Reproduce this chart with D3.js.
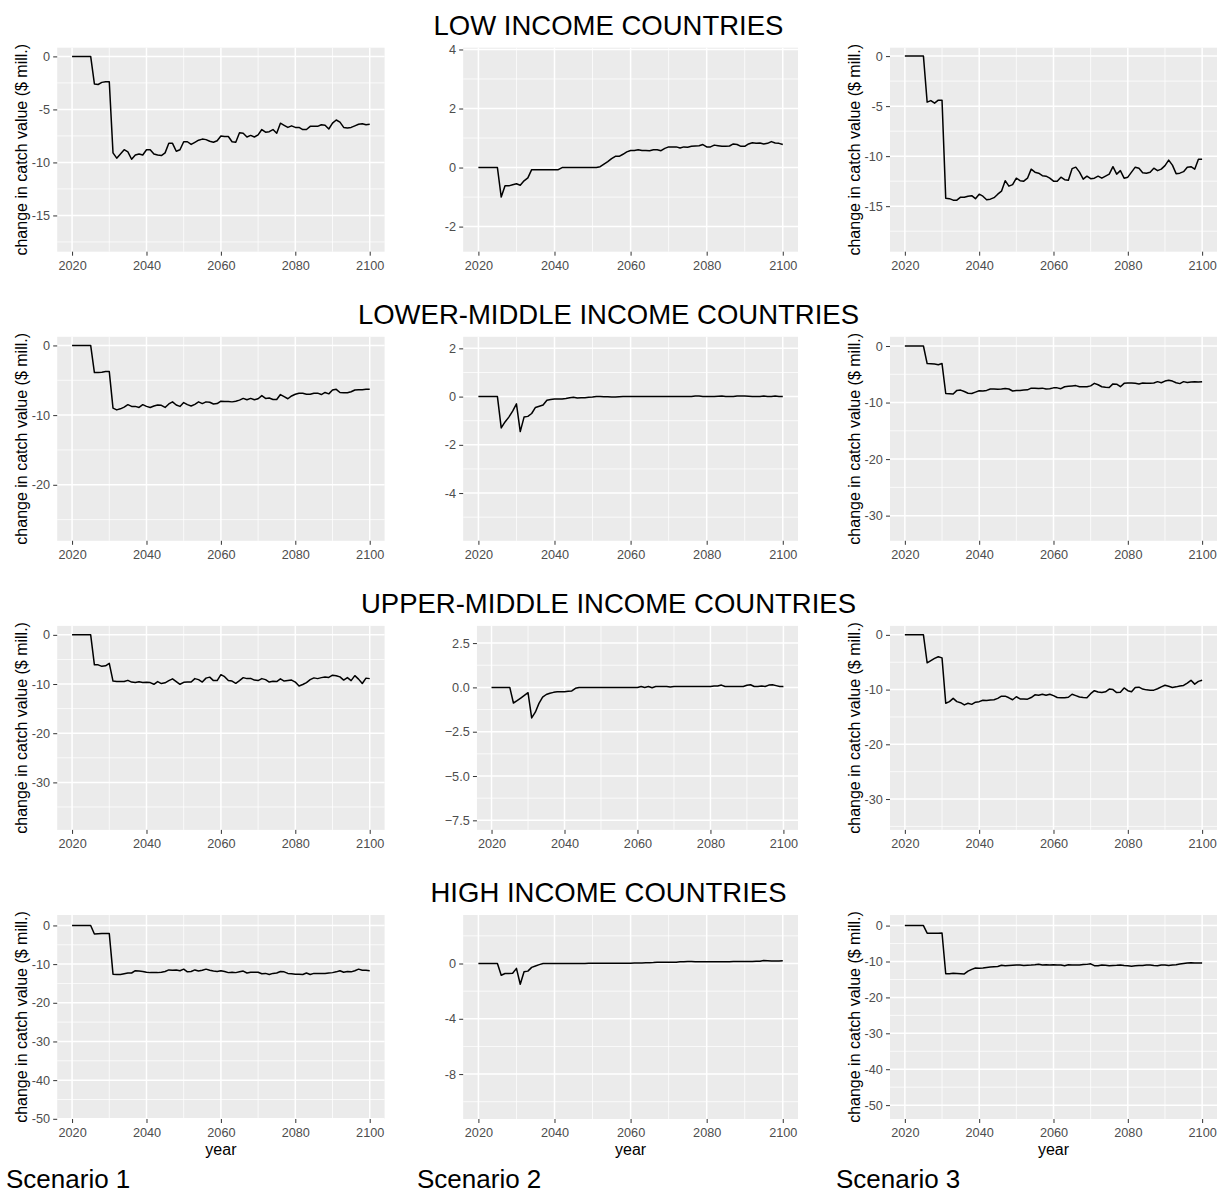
<!DOCTYPE html>
<html>
<head>
<meta charset="utf-8">
<script src="https://cdn.jsdelivr.net/npm/d3@7"></script>
<style>
   body { margin: 0; background: #ffffff; }
   svg { display: block; font-family: "Liberation Sans", Arial, Helvetica, sans-serif; }
</style>
</head>
<body>
<div id="chart"></div>
<script>
var years = d3.range(2020, 2101)

var rowTitles = ["LOW INCOME COUNTRIES", "LOWER-MIDDLE INCOME COUNTRIES", "UPPER-MIDDLE INCOME COUNTRIES", "HIGH INCOME COUNTRIES"]
var scenarioNames = ["Scenario 1", "Scenario 2", "Scenario 3"]
var yTitle = "change in catch value ($ mill.)"
var xTitle = "year"
var xTicks = [2020, 2040, 2060, 2080, 2100]

// change in catch value, one value per year 2020..2100
var low_s1 = [
   0,0,0,0,0,0,-2.6,-2.65,-2.45,-2.4,
   -2.4,-9.1,-9.6,-9.2,-8.8,-9.0,-9.7,-9.3,-9.2,-9.3,
   -8.8,-8.8,-9.2,-9.3,-9.35,-9.1,-8.2,-8.2,-8.95,-8.8,
   -8.05,-8.05,-8.3,-8.1,-7.9,-7.8,-7.85,-8.0,-8.1,-7.95,
   -7.5,-7.55,-7.55,-8.05,-8.1,-7.2,-7.25,-7.6,-7.45,-7.6,
   -7.4,-6.9,-7.15,-7.1,-6.9,-7.25,-6.3,-6.5,-6.7,-6.55,
   -6.7,-6.7,-6.9,-6.9,-6.6,-6.6,-6.6,-6.45,-6.5,-6.85,
   -6.3,-6.0,-6.2,-6.7,-6.75,-6.7,-6.55,-6.4,-6.35,-6.45,
   -6.4]
var low_s2 = [
   0,0,0,0,0,0,-1.0,-0.62,-0.62,-0.58,
   -0.55,-0.6,-0.45,-0.35,-0.07,-0.07,-0.07,-0.07,-0.07,-0.07,
   -0.07,-0.07,0,0,0,0,0,0,0,0,
   0,0,0.03,0.12,0.2,0.3,0.38,0.38,0.45,0.53,
   0.58,0.58,0.6,0.58,0.58,0.57,0.6,0.6,0.57,0.65,
   0.7,0.7,0.7,0.66,0.7,0.69,0.72,0.73,0.74,0.78,
   0.7,0.7,0.76,0.74,0.72,0.72,0.73,0.8,0.78,0.72,
   0.72,0.8,0.84,0.82,0.83,0.8,0.82,0.88,0.83,0.82,
   0.78]
var low_s3 = [
   0,0,0,0,0,0,-4.6,-4.45,-4.7,-4.4,
   -4.4,-14.2,-14.25,-14.4,-14.4,-14.1,-14.1,-14.0,-13.95,-14.25,
   -13.8,-14.0,-14.35,-14.3,-14.15,-13.8,-13.5,-12.45,-13.0,-12.85,
   -12.2,-12.45,-12.5,-12.2,-11.3,-11.6,-11.7,-11.95,-12.0,-12.2,
   -12.5,-12.5,-12.1,-12.35,-12.4,-11.25,-11.1,-11.6,-12.3,-12.0,
   -12.25,-12.2,-12.0,-12.2,-12.0,-11.8,-11.05,-11.8,-11.45,-12.2,
   -12.1,-11.6,-11.1,-11.2,-11.65,-11.7,-11.6,-11.2,-11.45,-11.3,
   -10.95,-10.4,-10.9,-11.75,-11.7,-11.55,-11.1,-11.05,-11.3,-10.3,
   -10.3]
var lowmid_s1 = [
   0,0,0,0,0,0,-3.9,-3.9,-3.85,-3.75,
   -3.75,-9.0,-9.25,-9.1,-8.85,-8.5,-8.75,-8.75,-8.9,-8.5,
   -8.75,-8.9,-8.7,-8.55,-8.6,-8.9,-8.4,-8.1,-8.55,-8.75,
   -8.2,-8.5,-8.7,-8.45,-8.1,-8.35,-8.1,-8.15,-8.4,-8.35,
   -8.0,-8.05,-8.05,-8.1,-8.0,-7.85,-7.6,-7.8,-7.6,-7.8,
   -7.65,-7.2,-7.6,-7.55,-7.75,-7.75,-7.05,-7.35,-7.65,-7.25,
   -7.0,-6.85,-6.85,-7.0,-7.0,-6.85,-6.85,-7.05,-6.75,-6.95,
   -6.4,-6.3,-6.75,-6.8,-6.8,-6.65,-6.4,-6.35,-6.35,-6.3,
   -6.3]
var lowmid_s2 = [
   0,0,0,0,0,0,-1.3,-1.05,-0.85,-0.6,
   -0.3,-1.45,-0.85,-0.82,-0.7,-0.45,-0.4,-0.35,-0.15,-0.12,
   -0.1,-0.1,-0.1,-0.08,-0.05,-0.03,-0.06,-0.05,-0.05,-0.03,
   -0.02,0,0,-0.01,-0.01,-0.02,-0.02,-0.01,0,0,
   0,0,0,0,0,0,0,0,0,0,
   0,0,0,0,0,0,0,0.02,0.02,0,
   0,0,0,0.01,0.02,0,0,0,0.02,0.02,
   0.02,0.01,0,0,0,0.02,0,0,0.02,0,
   0]
var lowmid_s3 = [
   0,0,0,0,0,0,-3.1,-3.15,-3.2,-3.3,
   -3.1,-8.4,-8.45,-8.5,-7.85,-7.8,-8.05,-8.35,-8.4,-8.15,
   -7.9,-7.95,-7.85,-7.6,-7.6,-7.65,-7.6,-7.5,-7.6,-7.95,
   -7.85,-7.85,-7.8,-7.75,-7.45,-7.45,-7.5,-7.45,-7.6,-7.55,
   -7.4,-7.4,-7.55,-7.2,-7.1,-7.05,-7.0,-7.2,-7.2,-7.2,
   -7.05,-6.6,-6.85,-7.2,-7.3,-7.35,-6.7,-6.75,-7.2,-6.6,
   -6.55,-6.55,-6.6,-6.7,-6.55,-6.6,-6.6,-6.55,-6.3,-6.5,
   -6.2,-6.05,-6.2,-6.5,-6.65,-6.3,-6.45,-6.35,-6.3,-6.35,
   -6.3]
var uppmid_s1 = [
   0,0,0,0,0,0,-6.1,-6.1,-6.4,-6.3,
   -5.8,-9.4,-9.5,-9.5,-9.5,-9.25,-9.6,-9.7,-9.55,-9.7,
   -9.65,-9.7,-10.05,-9.5,-9.9,-9.75,-9.3,-8.95,-9.5,-10.05,
   -9.65,-9.6,-9.6,-8.9,-9.1,-9.6,-8.8,-8.6,-9.3,-9.3,
   -8.1,-8.5,-9.3,-9.4,-9.85,-9.3,-8.7,-8.9,-8.85,-9.2,
   -9.3,-8.9,-9.1,-9.6,-9.45,-9.5,-8.95,-9.4,-9.3,-9.2,
   -9.6,-10.4,-10.1,-9.7,-9.1,-8.75,-8.9,-8.7,-8.55,-8.65,
   -8.2,-8.3,-8.55,-9.2,-8.7,-9.3,-8.3,-9.0,-9.9,-8.8,
   -8.9]
var uppmid_s2 = [
   0,0,0,0,0,0,-0.88,-0.75,-0.6,-0.45,
   -0.3,-1.72,-1.4,-0.9,-0.55,-0.4,-0.33,-0.28,-0.25,-0.25,
   -0.25,-0.22,-0.2,-0.05,0,0,0,0,0,0,
   0,0,0,0,0,0,0,0,0,0,
   0,0.05,0,0.05,-0.02,0.05,0.05,0.05,0.05,0.02,
   0.05,0.05,0.05,0.05,0.05,0.05,0.05,0.05,0.05,0.05,
   0.05,0.08,0.08,0.13,0.05,0.05,0.05,0.05,0.05,0.05,
   0.12,0.15,0.05,0.05,0.08,0.05,0.13,0.15,0.1,0.05,
   0.05]
var uppmid_s3 = [
   0,0,0,0,0,0,-5.1,-4.7,-4.3,-4.0,
   -4.2,-12.5,-12.2,-11.6,-12.2,-12.4,-12.8,-12.5,-12.7,-12.3,
   -12.2,-11.95,-12.0,-11.9,-11.85,-11.6,-11.2,-11.2,-11.5,-11.85,
   -11.3,-11.7,-11.7,-11.75,-11.45,-10.95,-11.05,-10.85,-11.05,-10.85,
   -11.1,-11.45,-11.5,-11.5,-11.4,-10.85,-11.1,-11.35,-11.45,-11.5,
   -10.75,-10.2,-10.45,-10.55,-10.4,-9.9,-10.0,-10.55,-10.5,-9.7,
   -10.2,-10.4,-9.6,-9.55,-9.9,-10.05,-10.1,-10.1,-9.85,-9.5,
   -9.2,-9.4,-9.6,-9.5,-9.35,-9.25,-8.8,-8.3,-9.0,-8.5,
   -8.3]
var high_s1 = [
   0,0,0,0,0,0,-2.2,-2.15,-2.1,-2.1,
   -2.1,-12.6,-12.7,-12.7,-12.5,-12.3,-12.3,-11.7,-11.8,-11.9,
   -12.1,-12.2,-12.2,-12.2,-12.1,-11.9,-11.5,-11.6,-11.5,-11.7,
   -11.3,-12.0,-11.9,-11.5,-11.8,-11.6,-11.3,-11.6,-11.8,-11.9,
   -11.7,-11.9,-12.2,-12.1,-12.2,-12.0,-11.8,-12.3,-12.1,-12.1,
   -12.1,-12.5,-12.4,-12.7,-12.4,-12.3,-11.9,-12.0,-12.4,-12.5,
   -12.6,-12.6,-12.7,-12.3,-12.7,-12.4,-12.4,-12.4,-12.4,-12.3,
   -12.2,-12.0,-11.7,-12.1,-11.9,-12.0,-11.7,-11.3,-11.6,-11.6,
   -11.7]
var high_s2 = [
   0,0,0,0,0,0,-0.85,-0.72,-0.72,-0.7,
   -0.35,-1.5,-0.6,-0.55,-0.28,-0.18,-0.08,0,0,0,
   0,0,0,0,0,0,0,0,0,0.02,
   0.02,0.02,0.02,0.02,0.02,0.02,0.02,0.02,0.02,0.02,
   0.02,0.03,0.03,0.04,0.05,0.05,0.07,0.1,0.1,0.1,
   0.1,0.1,0.1,0.12,0.13,0.15,0.15,0.13,0.13,0.12,
   0.13,0.13,0.13,0.13,0.13,0.13,0.13,0.14,0.14,0.15,
   0.15,0.15,0.15,0.16,0.17,0.22,0.2,0.18,0.19,0.19,
   0.2]
var high_s3 = [
   0,0,0,0,0,0,-2.1,-2.1,-2.1,-2.1,
   -2.05,-13.4,-13.4,-13.3,-13.35,-13.4,-13.45,-12.7,-12.2,-11.8,
   -11.85,-11.8,-11.65,-11.55,-11.45,-11.4,-11.05,-11.2,-11.1,-11.05,
   -11.0,-11.0,-11.1,-11.05,-11.0,-10.9,-10.75,-10.95,-10.9,-11.0,
   -10.9,-10.95,-11.0,-11.2,-10.9,-10.95,-11.0,-10.95,-10.85,-10.8,
   -10.65,-11.15,-11.2,-11.0,-11.05,-11.2,-11.1,-11.05,-10.95,-11.1,
   -11.2,-11.3,-11.2,-11.1,-11.1,-11.0,-10.95,-11.1,-11.2,-11.0,
   -11.0,-11.1,-11.0,-10.9,-10.7,-10.55,-10.4,-10.35,-10.4,-10.4,
   -10.4]

var series = [
   [low_s1, low_s2, low_s3],
   [lowmid_s1, lowmid_s2, lowmid_s3],
   [uppmid_s1, uppmid_s2, uppmid_s3],
   [high_s1, high_s2, high_s3]
]

// y axis limits and breaks
var yLimits = [
   [[-18.42, 0.82], [-2.85, 4.06], [-19.55, 0.84]],
   [[-28.04, 1.24], [-5.98, 2.48], [-34.45, 1.63]],
   [[-39.66, 1.82], [-8.04, 3.47], [-35.64, 1.64]],
   [[-50.05, 2.7], [-11.25, 3.51], [-53.86, 2.95]]
]
var yTicks = [
   [[0, -5, -10, -15], [4, 2, 0, -2], [0, -5, -10, -15]],
   [[0, -10, -20], [2, 0, -2, -4], [0, -10, -20, -30]],
   [[0, -10, -20, -30], [2.5, 0, -2.5, -5, -7.5], [0, -10, -20, -30]],
   [[0, -10, -20, -30, -40, -50], [0, -4, -8], [0, -10, -20, -30, -40, -50]]
]

var W = 1217, H = 1197
var rowTop = 47.7, rowStep = 289.1, panelH = 204
var labelLeft = [31.65, 444.7, 864.45]
var panelRight = [384.6, 798, 1217]
var titleX = [26.5, null, 859.5]
var scenarioX = [6, 417, 836]
var tickFont = 12.7

var svg = d3.select("#chart").append("svg")
   .attr("width", W)
   .attr("height", H)

function fmt(ticks) {
   let dec = ticks.some(function(t) { return t % 1 != 0 })
   return dec ? d3.format(".1f") : function(t) { return String(t) }
}

function textWidth(str) {
   let t = svg.append("text").attr("font-size", tickFont).text(str)
   let w = t.node().getComputedTextLength()
   t.remove()
   return w
}

function midpoints(ticks, lim) {
   let s = ticks.slice().sort(d3.ascending)
   let step = s[1] - s[0]
   let out = []
   for(let v = s[0] - step / 2; v <= lim[1]; v += step) {
      if(v >= lim[0]) out.push(v)
   }
   return out
}

rowTitles.forEach(function(title, r) {
   svg.append("text")
      .attr("x", W / 2)
      .attr("y", 35 + r * rowStep)
      .attr("text-anchor", "middle")
      .attr("font-size", 27.5)
      .attr("fill", "#000")
      .text(title)

   for(let c = 0; c < 3; c++) {
      let ticks = yTicks[r][c]
      let lim = yLimits[r][c]
      let f = fmt(ticks)
      let maxW = d3.max(ticks, function(t) { return textWidth(f(t)) })

      let left = labelLeft[c] + maxW + 7.2
      let right = panelRight[c]
      let top = rowTop + r * rowStep
      let bottom = top + panelH

      let x = d3.scaleLinear().domain([2016, 2104]).range([left, right])
      let y = d3.scaleLinear().domain(lim).range([bottom, top])

      let g = svg.append("g")

      g.append("rect")
         .attr("x", left)
         .attr("y", top)
         .attr("width", right - left)
         .attr("height", bottom - top)
         .attr("fill", "#EBEBEB")

      // minor grid
      g.selectAll("line.ymin").data(midpoints(ticks, lim)).enter().append("line")
         .attr("x1", left).attr("x2", right)
         .attr("y1", function(d) { return y(d) })
         .attr("y2", function(d) { return y(d) })
         .attr("stroke", "#fff").attr("stroke-width", 0.75)
      g.selectAll("line.xmin").data([2030, 2050, 2070, 2090]).enter().append("line")
         .attr("y1", top).attr("y2", bottom)
         .attr("x1", function(d) { return x(d) })
         .attr("x2", function(d) { return x(d) })
         .attr("stroke", "#fff").attr("stroke-width", 0.75)

      // major grid
      g.selectAll("line.ymaj").data(ticks).enter().append("line")
         .attr("x1", left).attr("x2", right)
         .attr("y1", function(d) { return y(d) })
         .attr("y2", function(d) { return y(d) })
         .attr("stroke", "#fff").attr("stroke-width", 1.5)
      g.selectAll("line.xmaj").data(xTicks).enter().append("line")
         .attr("y1", top).attr("y2", bottom)
         .attr("x1", function(d) { return x(d) })
         .attr("x2", function(d) { return x(d) })
         .attr("stroke", "#fff").attr("stroke-width", 1.5)

      let line = d3.line()
         .x(function(d, i) { return x(years[i]) })
         .y(function(d) { return y(d) })

      g.append("path")
         .datum(series[r][c])
         .attr("d", line)
         .attr("fill", "none")
         .attr("stroke", "#000")
         .attr("stroke-width", 1.5)
         .attr("stroke-linejoin", "round")

      let yAxis = g.append("g")
         .attr("transform", "translate(" + left + ",0)")
         .call(d3.axisLeft(y).tickValues(ticks).tickFormat(f).tickSize(4).tickPadding(3.2))
      let xAxis = g.append("g")
         .attr("transform", "translate(0," + bottom + ")")
         .call(d3.axisBottom(x).tickValues(xTicks).tickFormat(d3.format("d")).tickSize(4).tickPadding(5.2))

      ;[yAxis, xAxis].forEach(function(a) {
         a.select(".domain").remove()
         a.selectAll(".tick line").attr("stroke", "#333333").attr("stroke-width", 1)
         a.selectAll(".tick text")
            .attr("fill", "#4D4D4D")
            .attr("font-size", tickFont)
            .attr("font-family", "Liberation Sans, Arial, sans-serif")
      })

      if(titleX[c] != null) {
         g.append("text")
            .attr("transform", "translate(" + titleX[c] + "," + ((top + bottom) / 2) + ") rotate(-90)")
            .attr("text-anchor", "middle")
            .attr("font-size", 16)
            .attr("fill", "#000")
            .text(yTitle)
      }

      if(r == rowTitles.length - 1) {
         g.append("text")
            .attr("x", (left + right) / 2)
            .attr("y", bottom + 35.5)
            .attr("text-anchor", "middle")
            .attr("font-size", 16)
            .attr("fill", "#000")
            .text(xTitle)
      }
   }
})

scenarioNames.forEach(function(name, c) {
   svg.append("text")
      .attr("x", scenarioX[c])
      .attr("y", 1188)
      .attr("font-size", 26)
      .attr("fill", "#000")
      .text(name)
})
</script>
</body>
</html>
